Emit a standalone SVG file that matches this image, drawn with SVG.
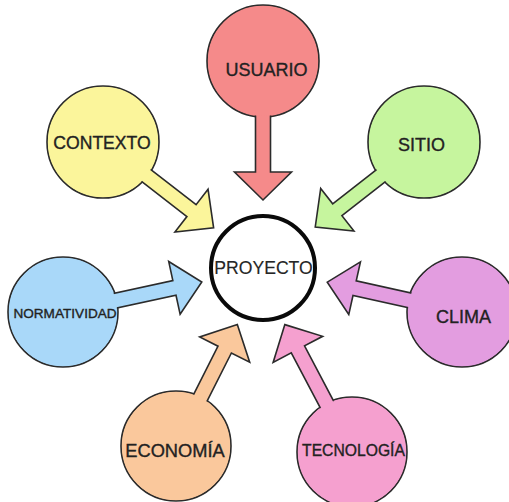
<svg xmlns="http://www.w3.org/2000/svg" width="509" height="502" viewBox="0 0 509 502">
<style>
.out{stroke:#2b2b2b;stroke-width:1.6;stroke-linejoin:miter}
.lbl{font-family:"Liberation Sans",Arial,sans-serif;fill:#222222;stroke:#222222;stroke-width:0.35;text-anchor:middle}
</style>
<rect width="509" height="502" fill="#ffffff"/>
<g id="connectors">
<!-- arrows are drawn with their source nodes so the shaft merges into the circle -->
</g>
<g id="usuario" transform="translate(263,61)">
<circle class="out" r="56" fill="#f58a8a"/>
<g transform="rotate(90)"><polygon class="out" fill="#f58a8a" points="0,-7.5 111,-7.5 111,-28.5 139,0 111,28.5 111,7.5 0,7.5"/></g>
<circle r="55" fill="#f58a8a"/>
<text class="lbl" x="3.5" y="15" font-size="18">USUARIO</text>
</g>
<g id="contexto" transform="translate(103,142)">
<circle class="out" r="56" fill="#fbf59b"/>
<g transform="rotate(37.8)"><polygon class="out" fill="#fbf59b" points="0,-7.5 112,-7.5 112,-27 140,0 112,27 112,7.5 0,7.5"/></g>
<circle r="55" fill="#fbf59b"/>
<text class="lbl" x="-1" y="7" font-size="17.6">CONTEXTO</text>
</g>
<g id="sitio" transform="translate(424,142)">
<circle class="out" r="56" fill="#c6f59e"/>
<g transform="rotate(142)"><polygon class="out" fill="#c6f59e" points="0,-7.5 110,-7.5 110,-27 138,0 110,27 110,7.5 0,7.5"/></g>
<circle r="55" fill="#c6f59e"/>
<text class="lbl" x="-2.5" y="9" font-size="18">SITIO</text>
</g>
<g id="normatividad" transform="translate(63,312)">
<circle class="out" r="55" fill="#a9d8f9"/>
<g transform="rotate(-12.2)"><polygon class="out" fill="#a9d8f9" points="0,-7.5 114,-7.5 114,-27 142,0 114,27 114,7.5 0,7.5"/></g>
<circle r="54" fill="#a9d8f9"/>
<text class="lbl" x="2" y="6" font-size="13.6">NORMATIVIDAD</text>
</g>
<g id="clima" transform="translate(462,312)">
<circle class="out" r="55" fill="#e39de0"/>
<g transform="rotate(192.5)"><polygon class="out" fill="#e39de0" points="0,-7.5 110,-7.5 110,-27 138,0 110,27 110,7.5 0,7.5"/></g>
<circle r="54" fill="#e39de0"/>
<text class="lbl" x="1.5" y="11" font-size="18">CLIMA</text>
</g>
<g id="economia" transform="translate(176,446)">
<circle class="out" r="55" fill="#fac89c"/>
<g transform="rotate(-63.2)"><polygon class="out" fill="#fac89c" points="0,-7.5 108,-7.5 108,-28 136,0 108,28 108,7.5 0,7.5"/></g>
<circle r="54" fill="#fac89c"/>
<text class="lbl" x="-1" y="11" font-size="18.3">ECONOMÍA</text>
</g>
<g id="tecnologia" transform="translate(352,452)">
<circle class="out" r="55" fill="#f5a0cf"/>
<g transform="rotate(-117.8)"><polygon class="out" fill="#f5a0cf" points="0,-7.5 116,-7.5 116,-28 144,0 116,28 116,7.5 0,7.5"/></g>
<circle r="54" fill="#f5a0cf"/>
<text class="lbl" x="1.5" y="4" font-size="15.7">TECNOLOGÍA</text>
</g>
<g id="proyecto">
<circle cx="263" cy="268" r="52" fill="#ffffff" stroke="#0a0a0a" stroke-width="4"/>
<text class="lbl" x="263.5" y="274" font-size="17.6" style="fill:#262626;stroke:#262626;stroke-width:0.15">PROYECTO</text>
</g>
</svg>
